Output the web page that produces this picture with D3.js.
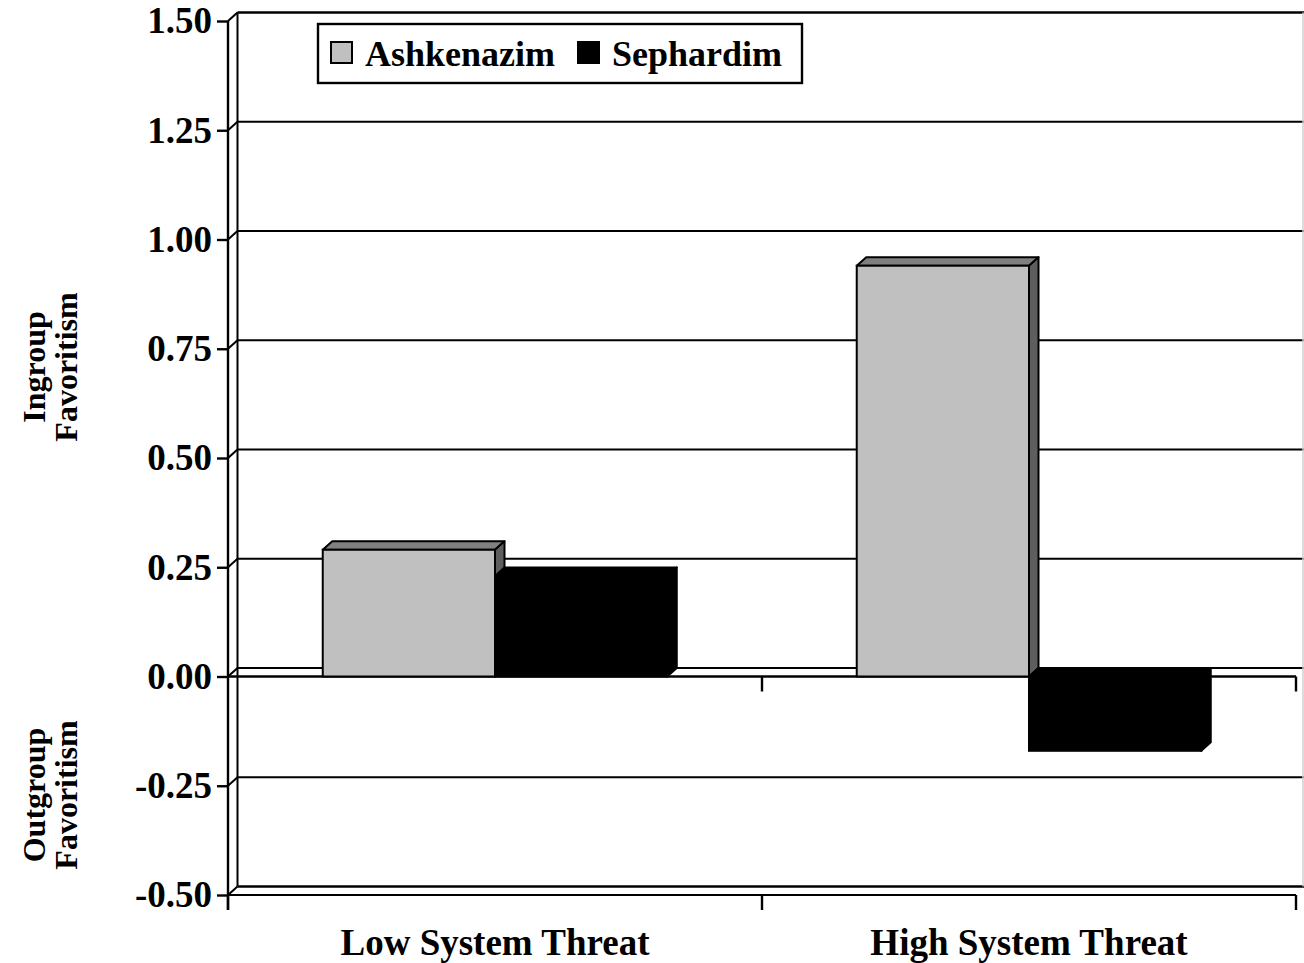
<!DOCTYPE html>
<html>
<head>
<meta charset="utf-8">
<script src="https://cdn.jsdelivr.net/npm/d3@7"></script>
<style>
  body { margin: 0; background: #fff; }
  text { font-family: "Liberation Serif", "Times New Roman", serif; font-weight: bold; fill: #000; }
</style>
</head>
<body>
<script>
const categories = ["Low System Threat", "High System Threat"];
const series = ["Ashkenazim", "Sephardim"];
const ashkenazim = [0.29, 0.94];
const sephardim = [0.23, -0.17];
const yTicks = [-0.5, -0.25, 0, 0.25, 0.5, 0.75, 1.0, 1.25, 1.5];

const width = 1304;
const height = 963;
const dx = 9.5, dy = 8.5;   // depth offset of the 3D walls

const svg = d3.select("body")
    .append("svg")
    .attr("width", width)
    .attr("height", height);

const yScale = d3.scaleLinear()
    .domain([-0.5, 1.5])
    .range([895, 21]);

const x0 = d3.scaleBand()
    .domain(categories)
    .range([228, 1296])
    .padding(0);

const x1 = d3.scaleBand()
    .domain(series)
    .range([0, x0.bandwidth()])
    .paddingInner(0)
    .paddingOuter(0.55);

const left = 228, right = 1296;

// back wall gridlines
svg.append("g")
    .selectAll("line")
    .data(yTicks)
    .enter()
    .append("line")
    .attr("x1", left + dx)
    .attr("x2", width)
    .attr("y1", d => yScale(d) - dy)
    .attr("y2", d => yScale(d) - dy)
    .attr("stroke", "#000")
    .attr("stroke-width", d => (d === 1.5 || d === -0.5) ? 2.6 : 2);

// side wall diagonals
svg.append("g")
    .selectAll("line")
    .data(yTicks)
    .enter()
    .append("line")
    .attr("x1", left)
    .attr("x2", left + dx)
    .attr("y1", d => yScale(d))
    .attr("y2", d => yScale(d) - dy)
    .attr("stroke", "#000")
    .attr("stroke-width", 2);

svg.append("line")
    .attr("x1", left + dx).attr("x2", left + dx)
    .attr("y1", yScale(1.5) - dy).attr("y2", yScale(-0.5) - dy)
    .attr("stroke", "#000").attr("stroke-width", 2);

svg.append("line")
    .attr("x1", width - 1).attr("x2", width - 1)
    .attr("y1", yScale(1.5) - dy).attr("y2", yScale(-0.5) - dy)
    .attr("stroke", "#d0d0d0").attr("stroke-width", 1.5);

// front zero line and floor line
[0, -0.5].forEach(v => {
    svg.append("line")
        .attr("x1", left).attr("x2", right)
        .attr("y1", yScale(v)).attr("y2", yScale(v))
        .attr("stroke", "#000").attr("stroke-width", v === 0 ? 2.6 : 2);
});

// category ticks
svg.append("g")
    .selectAll("line")
    .data([left, x0(categories[1]), right])
    .enter()
    .append("line")
    .attr("x1", d => d).attr("x2", d => d)
    .attr("y1", yScale(-0.5)).attr("y2", yScale(-0.5) + 15)
    .attr("stroke", "#000").attr("stroke-width", 2.4);

svg.append("g")
    .selectAll("line")
    .data([x0(categories[1]), right])
    .enter()
    .append("line")
    .attr("x1", d => d).attr("x2", d => d)
    .attr("y1", yScale(0)).attr("y2", yScale(0) + 15)
    .attr("stroke", "#000").attr("stroke-width", 2.4);

// bars
const colors = {
    Ashkenazim: { front: "#c0c0c0", top: "#808080", side: "#5e5e5e" },
    Sephardim: { front: "#000", top: "#000", side: "#000" }
};

const bars = [];
categories.forEach((c, i) => {
    bars.push({ cat: c, series: "Ashkenazim", value: ashkenazim[i] });
    bars.push({ cat: c, series: "Sephardim", value: sephardim[i] });
});

const barG = svg.selectAll(".bar")
    .data(bars)
    .enter()
    .append("g")
    .attr("class", "bar");

barG.each(function (d) {
    const g = d3.select(this);
    const x = x0(d.cat) + x1(d.series);
    const w = x1.bandwidth();
    const yTop = yScale(Math.max(d.value, 0));
    const yBot = yScale(Math.min(d.value, 0));
    const col = colors[d.series];

    g.append("polygon")
        .attr("points", [[x, yTop], [x + dx, yTop - dy], [x + w + dx, yTop - dy], [x + w, yTop]].join(" "))
        .attr("fill", col.top)
        .attr("stroke", "#000").attr("stroke-width", 2).attr("stroke-linejoin", "round");

    g.append("polygon")
        .attr("points", [[x + w, yTop], [x + w + dx, yTop - dy], [x + w + dx, yBot - dy], [x + w, yBot]].join(" "))
        .attr("fill", col.side)
        .attr("stroke", "#000").attr("stroke-width", 2).attr("stroke-linejoin", "round");

    g.append("rect")
        .attr("x", x)
        .attr("y", yTop)
        .attr("width", w)
        .attr("height", yBot - yTop)
        .attr("fill", col.front)
        .attr("stroke", "#000").attr("stroke-width", 2);
});

// front value axis
const fmt = d3.format(".2f");
const yAxis = d3.axisLeft(yScale)
    .tickValues(yTicks)
    .tickFormat(d => fmt(d).replace("\u2212", "-"))
    .tickSize(11)
    .tickPadding(5);

const yAxisG = svg.append("g")
    .attr("transform", `translate(${left}, 0)`)
    .call(yAxis);

yAxisG.select(".domain")
    .attr("d", `M0,${yScale(1.5)}V${yScale(-0.5) + 15}`)
    .attr("stroke", "#000").attr("stroke-width", 2.4);
yAxisG.selectAll(".tick line").attr("stroke", "#000").attr("stroke-width", 2.4);
yAxisG.selectAll(".tick text")
    .style("font-family", "'Liberation Serif', 'Times New Roman', serif")
    .style("font-weight", "bold")
    .style("font-size", "37px")
    .attr("fill", "#000");

// category labels
svg.append("g")
    .selectAll("text")
    .data(categories)
    .enter()
    .append("text")
    .attr("x", d => x0(d) + x0.bandwidth() / 2)
    .attr("y", 955)
    .attr("text-anchor", "middle")
    .style("font-size", "37px")
    .text(d => d);

// side titles
const sideTitles = [
    { lines: ["Ingroup", "Favoritism"], cy: 367 },
    { lines: ["Outgroup", "Favoritism"], cy: 795 }
];
sideTitles.forEach(t => {
    t.lines.forEach((line, j) => {
        svg.append("text")
            .attr("transform", `translate(${45 + j * 32}, ${t.cy}) rotate(-90)`)
            .attr("text-anchor", "middle")
            .style("font-size", "32px")
            .text(line);
    });
});

// legend
const legend = svg.append("g");
legend.append("rect")
    .attr("x", 318).attr("y", 24)
    .attr("width", 484).attr("height", 59)
    .attr("fill", "#fff")
    .attr("stroke", "#000").attr("stroke-width", 2.4);

const legendX = [331, 578];
series.forEach((s, i) => {
    legend.append("rect")
        .attr("x", legendX[i]).attr("y", 42)
        .attr("width", 21).attr("height", 21)
        .attr("fill", colors[s].front)
        .attr("stroke", "#000").attr("stroke-width", 2);
    legend.append("text")
        .attr("x", legendX[i] + 34)
        .attr("y", 66)
        .style("font-size", "36px")
        .text(s);
});
</script>
</body>
</html>
